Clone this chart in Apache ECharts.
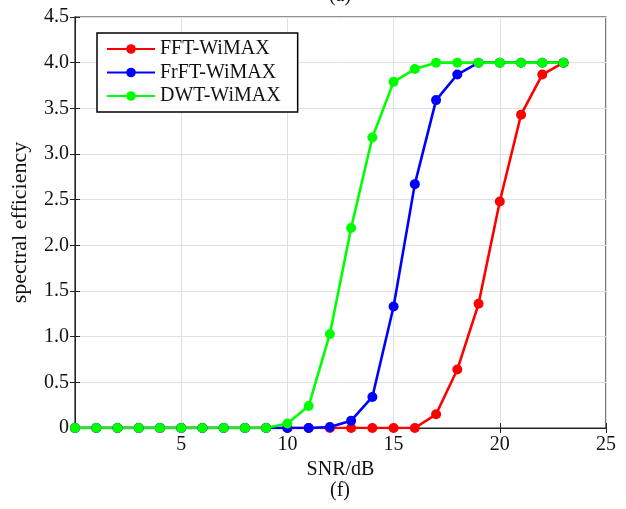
<!DOCTYPE html>
<html><head><meta charset="utf-8">
<script src="https://cdn.jsdelivr.net/npm/echarts@6/dist/echarts.min.js"></script>
<style>html,body{margin:0;padding:0;background:#fff}#c{width:626px;height:509px}</style>
</head><body><div id="c"></div>
<script>
const snr = [0,1,2,3,4,5,6,7,8,9,10,11,12,13,14,15,16,17,18,19,20,21,22,23];
const fft = [0,0,0,0,0,0,0,0,0,0,0,0,0,0,0,0,0,0.15,0.64,1.36,2.48,3.43,3.87,4.0];
const frft = [0,0,0,0,0,0,0,0,0,0,0,0,0.01,0.08,0.34,1.33,2.67,3.59,3.87,4.0,4.0,4.0,4.0,4.0];
const dwt = [0,0,0,0,0,0,0,0,0,0,0.05,0.24,1.03,2.19,3.18,3.79,3.93,4.0,4.0,4.0,4.0,4.0,4.0,4.0];
const names = ['FFT-WiMAX','FrFT-WiMAX','DWT-WiMAX'];
const colors = ['#ff0000','#0000ff','#00ff00'];
const font = 'Liberation Serif';
const chart = echarts.init(document.getElementById('c'));
function mk(name, vals, color){
  return {name, type:'line', data: snr.map((x,i)=>[x, vals[i]]), color,
    symbol:'circle', symbolSize:10, lineStyle:{width:2.6,color}, itemStyle:{color},
    animation:false};
}
chart.setOption({
  animation:false,
  textStyle:{fontFamily:font},
  graphic:[
    {type:'text', x:340, y:-14, style:{text:'(a)', font:'20px "Liberation Serif"', fill:'#111', textAlign:'center'}},
    {type:'text', x:340, y:481, style:{text:'(f)', font:'20px "Liberation Serif"', fill:'#111', textAlign:'center'}}
  ],
  grid:{left:75, right:20, top:17, bottom:81, show:true, borderColor:'#222', borderWidth:1.2},
  legend:{left:97, top:33, orient:'vertical', backgroundColor:'#fff', borderColor:'#000', borderWidth:1.5,
    padding:[6,17,6,9], itemWidth:48, itemHeight:12, itemGap:3.5,
    textStyle:{fontFamily:font, fontSize:20, color:'#111'}, data:names},
  xAxis:[{type:'value', min:0, max:25, interval:5, position:'bottom',
    name:'SNR/dB', nameLocation:'middle', nameGap:28, nameTextStyle:{fontFamily:font, fontSize:20, color:'#111'},
    axisLine:{lineStyle:{color:'#222'}}, axisTick:{inside:true, length:5, lineStyle:{color:'#222'}},
    axisLabel:{fontFamily:font, fontSize:20, color:'#111', margin:7, formatter:v=>v===0?'':String(v)},
    splitLine:{show:true, lineStyle:{color:'#e0e0e0'}}},
   {type:'value', min:0, max:25, interval:5, position:'top',
    axisLine:{lineStyle:{color:'#222'}}, axisTick:{inside:true, length:5, lineStyle:{color:'#222'}},
    axisLabel:{show:false}, splitLine:{show:false}}],
  yAxis:[{type:'value', min:0, max:4.5, interval:0.5, position:'left',
    name:'spectral efficiency', nameLocation:'middle', nameGap:44, nameRotate:90,
    nameTextStyle:{fontFamily:font, fontSize:22, color:'#111'},
    axisLine:{show:true, lineStyle:{color:'#222'}}, axisTick:{show:true, inside:true, length:5, lineStyle:{color:'#222'}},
    axisLabel:{fontFamily:font, fontSize:20, color:'#111', margin:6, formatter:v=>v===0?'0':v.toFixed(1)},
    splitLine:{show:true, lineStyle:{color:'#e0e0e0'}}},
   {type:'value', min:0, max:4.5, interval:0.5, position:'right',
    axisLine:{show:true, lineStyle:{color:'#222'}}, axisTick:{show:true, inside:true, length:5, lineStyle:{color:'#222'}},
    axisLabel:{show:false}, splitLine:{show:false}}],
  series:[mk(names[0], fft, colors[0]), mk(names[1], frft, colors[1]), mk(names[2], dwt, colors[2])]
});
</script></body></html>
